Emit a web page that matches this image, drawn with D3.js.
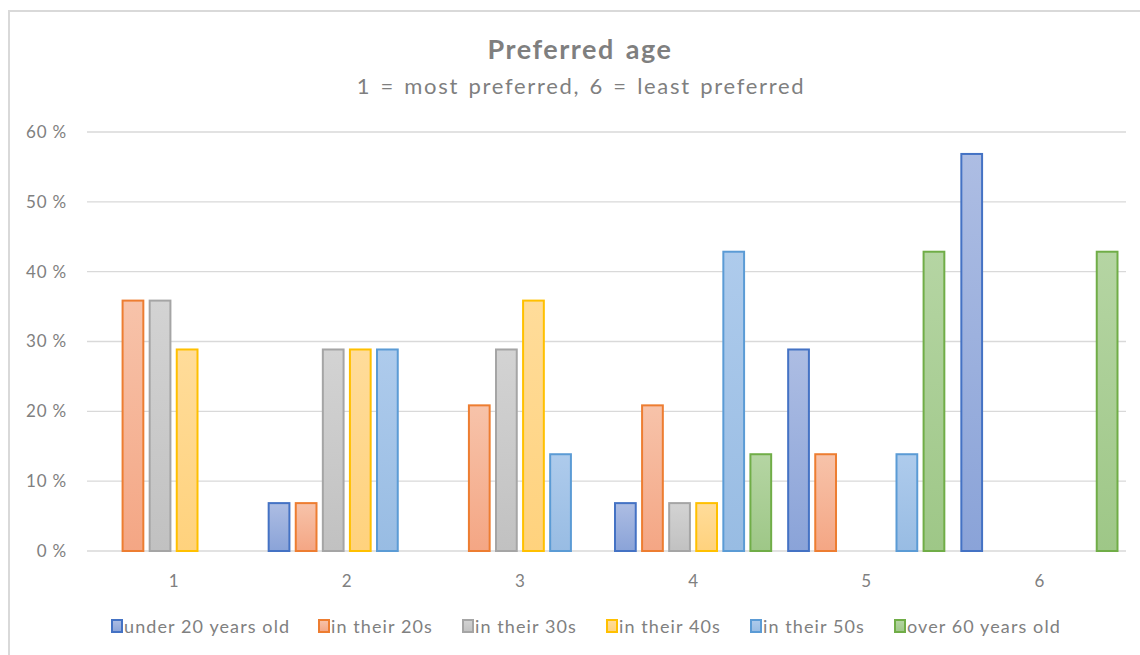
<!DOCTYPE html>
<html>
<head>
<meta charset="utf-8">
<script src="https://cdn.jsdelivr.net/npm/d3@7"></script>
<style>
  body { margin: 0; background: #fff; }
  svg { display: block; font-family: Lato, "Open Sans", sans-serif; }
</style>
</head>
<body>
<div id="chart"></div>
<script>
// Preferred age - grouped bar chart

const ranks = ['1', '2', '3', '4', '5', '6'];
const seriesNames = ['under 20 years old', 'in their 20s', 'in their 30s', 'in their 40s', 'in their 50s', 'over 60 years old'];
const under20 = [0, 7, 0, 7, 29, 57];
const in20s = [36, 7, 21, 21, 14, 0];
const in30s = [36, 29, 29, 7, 0, 0];
const in40s = [29, 29, 36, 7, 0, 0];
const in50s = [0, 29, 14, 43, 14, 0];
const over60 = [0, 0, 0, 14, 43, 43];
const yTicks = [0, 10, 20, 30, 40, 50, 60];

const seriesValues = [under20, in20s, in30s, in40s, in50s, over60];

// stroke, gradient top, gradient bottom
const colors = [
    ['#4472C4', '#adbde3', '#8aa3d8'],
    ['#ED7D31', '#f7c3aa', '#f4a684'],
    ['#A5A5A5', '#d3d3d3', '#c1c1c1'],
    ['#FFC000', '#ffdc9a', '#ffd27d'],
    ['#5B9BD5', '#aecbec', '#98bce3'],
    ['#70AD47', '#b5d5a3', '#9ec787']
];

const width = 1140, height = 655;
const plot = { left: 87, right: 1126, top: 132, bottom: 551 };

const svg = d3.select('#chart').append('svg')
    .attr('width', width)
    .attr('height', height);

// gradients
const defs = svg.append('defs');
colors.forEach((c, i) => {
    const g = defs.append('linearGradient')
        .attr('id', 'grad' + i)
        .attr('x1', 0).attr('y1', 0).attr('x2', 0).attr('y2', 1);
    g.append('stop').attr('offset', '0%').attr('stop-color', c[1]);
    g.append('stop').attr('offset', '100%').attr('stop-color', c[2]);
});

// chart frame
svg.append('rect')
    .attr('x', 9).attr('y', 11)
    .attr('width', width + 20).attr('height', height + 20)
    .attr('fill', 'none')
    .attr('stroke', '#d9d9d9')
    .attr('stroke-width', 2);

// Title
svg.append('text')
    .attr('x', 580).attr('y', 59)
    .attr('text-anchor', 'middle')
    .attr('font-size', 27).attr('font-weight', 'bold')
    .attr('fill', '#7f7f7f')
    .attr('letter-spacing', 1.5)
    .attr('word-spacing', 3)
    .text('Preferred age');

svg.append('text')
    .attr('x', 581).attr('y', 94)
    .attr('text-anchor', 'middle')
    .attr('font-size', 22)
    .attr('fill', '#7f7f7f')
    .attr('letter-spacing', 1.7)
    .attr('word-spacing', 2)
    .text('1 = most preferred, 6 = least preferred');

// Scales
const x = d3.scaleBand()
    .domain(ranks)
    .range([plot.left, plot.right]);

const xInner = d3.scaleBand()
    .domain(d3.range(seriesNames.length))
    .range([7.5, x.bandwidth() - 7.5])
    .paddingInner(0.16);

const y = d3.scaleLinear()
    .domain([0, 60])
    .range([plot.bottom, plot.top]);

// Gridlines
svg.append('g')
    .selectAll('line')
    .data(yTicks)
    .enter().append('line')
    .attr('x1', plot.left)
    .attr('x2', plot.right)
    .attr('y1', d => y(d))
    .attr('y2', d => y(d))
    .attr('stroke', '#d9d9d9')
    .attr('stroke-width', 1.3);

// Y axis labels
const yAxis = d3.axisLeft(y)
    .tickValues(yTicks)
    .tickSize(0)
    .tickPadding(0)
    .tickFormat(d => d + ' %');

svg.append('g')
    .attr('transform', `translate(67,0)`)
    .call(yAxis)
    .call(g => g.select('.domain').remove())
    .selectAll('text')
    .attr('font-family', 'Lato, sans-serif')
    .attr('font-size', 17)
    .attr('letter-spacing', 0.8)
    .attr('fill', '#808080');

// X axis labels
const xAxis = d3.axisBottom(x).tickSize(0).tickPadding(0);
svg.append('g')
    .attr('transform', `translate(0,${plot.bottom + 24})`)
    .call(xAxis)
    .call(g => g.select('.domain').remove())
    .selectAll('text')
    .attr('font-family', 'Lato, sans-serif')
    .attr('font-size', 17)
    .attr('fill', '#808080');

// Bars
const groups = svg.append('g')
    .selectAll('g')
    .data(ranks)
    .enter().append('g')
    .attr('transform', d => `translate(${x(d)},0)`);

groups.selectAll('rect')
    .data((d, gi) => seriesValues.map((vals, si) => ({ si, v: vals[gi] })).filter(d => d.v > 0))
    .enter().append('rect')
    .attr('x', d => xInner(d.si) + 1)
    .attr('width', xInner.bandwidth() - 2)
    .attr('y', d => y(d.v) + 1)
    .attr('height', d => y(0) - y(d.v) - 1)
    .attr('fill', d => `url(#grad${d.si})`)
    .attr('stroke', d => colors[d.si][0])
    .attr('stroke-width', 2);

// Legend
const legendX = [111, 318, 462, 606, 750, 894];
const legend = svg.append('g')
    .selectAll('g')
    .data(seriesNames)
    .enter().append('g')
    .attr('transform', (d, i) => `translate(${legendX[i]},619)`);

legend.append('rect')
    .attr('x', 1).attr('y', 1)
    .attr('width', 10).attr('height', 12)
    .attr('fill', (d, i) => `url(#grad${i})`)
    .attr('stroke', (d, i) => colors[i][0])
    .attr('stroke-width', 2);

legend.append('text')
    .attr('x', 13)
    .attr('y', 13.5)
    .attr('font-size', 18)
    .attr('letter-spacing', 1.1)
    .attr('fill', '#808080')
    .text(d => d);
</script>
</body>
</html>
